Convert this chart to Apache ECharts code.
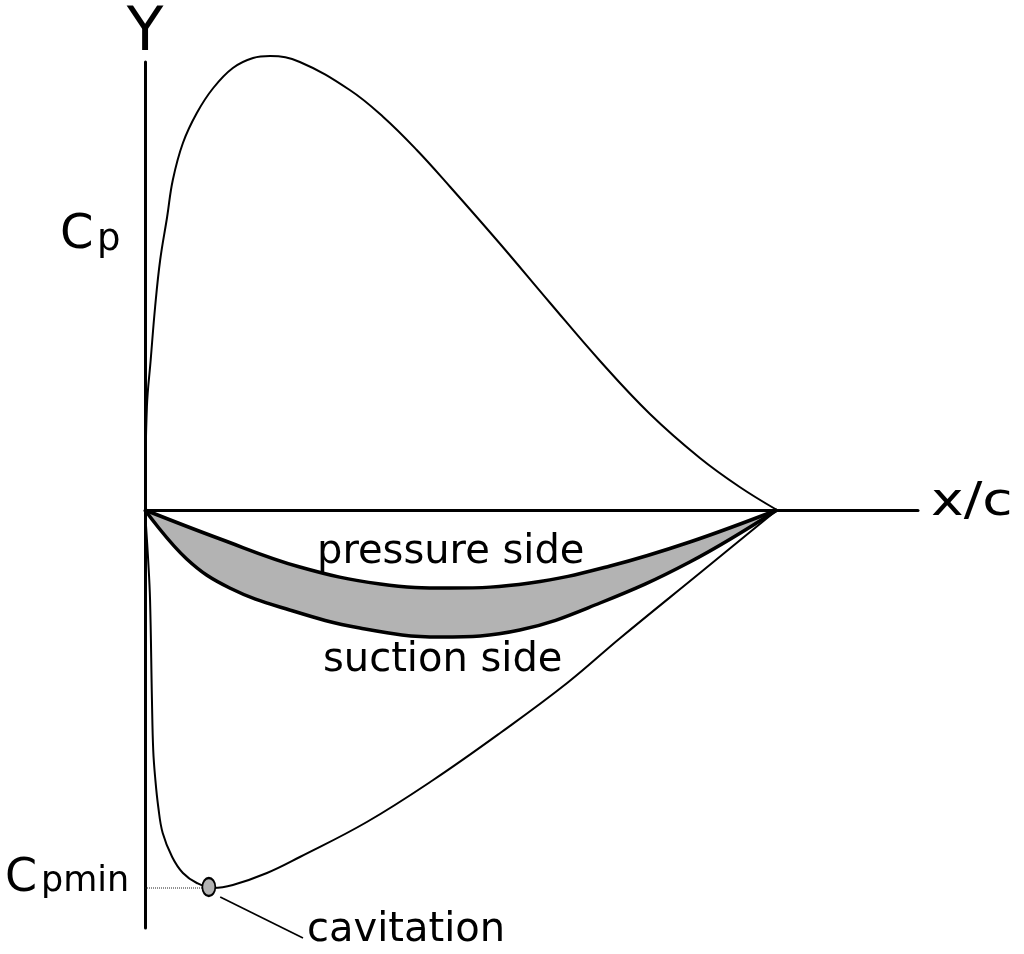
<!DOCTYPE html>
<html>
<head>
<meta charset="utf-8">
<script src="https://cdn.jsdelivr.net/npm/echarts@6/dist/echarts.min.js"></script>
<style>
  html, body { margin: 0; padding: 0; background: #fff; }
  #main { width: 1024px; height: 954px; }
</style>
</head>
<body>
<div id="main"></div>
<script>
// pressure coefficient along the chord, [x/c, Cp]
var cpUpper = [
  [0, 0], [0.003, 1.03], [0.009, 1.50], [0.016, 2.03], [0.024, 2.50], [0.035, 2.93],
  [0.044, 3.30], [0.060, 3.67], [0.082, 3.97], [0.108, 4.22], [0.139, 4.42], [0.171, 4.52],
  [0.198, 4.54], [0.245, 4.48], [0.324, 4.20], [0.377, 3.93], [0.430, 3.60], [0.483, 3.23],
  [0.562, 2.66], [0.641, 2.07], [0.720, 1.49], [0.799, 0.96], [0.878, 0.52], [0.941, 0.23],
  [1.0, 0]
];
var cpLower = [
  [0, 0], [0.005, -0.50], [0.008, -0.90], [0.011, -1.90], [0.013, -2.40], [0.016, -2.67],
  [0.021, -2.97], [0.028, -3.23], [0.043, -3.47], [0.060, -3.63], [0.082, -3.73], [0.108, -3.78],
  [0.139, -3.75], [0.193, -3.63], [0.245, -3.47], [0.351, -3.12], [0.456, -2.70], [0.562, -2.23],
  [0.668, -1.73], [0.752, -1.28], [0.878, -0.63], [1.0, 0]
];
// hydrofoil section
var foilPressure = [
  [0, 0], [0.119, -0.29], [0.245, -0.57], [0.372, -0.74], [0.483, -0.78], [0.609, -0.73],
  [0.736, -0.56], [0.862, -0.32], [1.0, 0]
];
var foilSuction = [
  [0, 0], [0.066, -0.49], [0.134, -0.78], [0.229, -1.00], [0.340, -1.18], [0.467, -1.27],
  [0.593, -1.20], [0.720, -0.93], [0.862, -0.52], [1.0, 0]
];
var cpMinPoint = [[0.101, -3.77]];
var cpMinGuide = [[0, -3.78], [0.093, -3.78]];
var cavitationLeader = [[0.119, -3.87], [0.25, -4.28]];

var myChart = echarts.init(document.getElementById('main'));

var font = 'DejaVu Sans';
function txt(text, x, y, size, align, sx) {
  return {
    type: 'text', z: 10, x: x, y: y, scaleX: sx || 1,
    style: { text: text, x: 0, y: 0, font: size + 'px "' + font + '"', fill: '#000',
      align: align || 'left', verticalAlign: 'middle' }
  };
}

function curve(data, width, z) {
  return { type: 'line', data: data, smooth: 0.4, symbol: 'none', z: z,
    clip: false, lineStyle: { color: '#000', width: width } };
}

myChart.setOption({
  animation: false,
  backgroundColor: '#fff',
  grid: { left: 145, right: 106, top: 62, bottom: 26 },
  xAxis: {
    type: 'value', min: 0, max: 1.2231, z: 2,
    axisLine: { onZero: true, lineStyle: { color: '#000', width: 3 } },
    axisTick: { show: false }, axisLabel: { show: false }, splitLine: { show: false }
  },
  yAxis: {
    type: 'value', min: -4.18, max: 4.48, z: 2,
    axisLine: { show: true, lineStyle: { color: '#000', width: 3 } },
    axisTick: { show: false }, axisLabel: { show: false }, splitLine: { show: false }
  },
  graphic: [
    txt('Y', 145, 34, 60, 'center'),
    txt('x/c', 931, 503, 46, 'left', 1.2),
    txt('C', 60, 236, 48),
    txt('p', 97, 240, 37),
    txt('C', 5, 879, 46),
    txt('pmin', 41, 882, 35),
    txt('pressure side', 317, 553, 40),
    txt('suction side', 323, 661, 40),
    txt('cavitation', 307, 931, 40)
  ],
  series: [
    // gray section: fill to chord, then blank out above the pressure side
    { type: 'line', data: foilSuction, smooth: 0.4, symbol: 'none', z: 1, clip: false,
      lineStyle: { width: 0 }, areaStyle: { color: '#b3b3b3', opacity: 1 } },
    { type: 'line', data: foilPressure, smooth: 0.4, symbol: 'none', z: 1, clip: false,
      lineStyle: { width: 0 }, areaStyle: { color: '#fff', opacity: 1 } },
    curve(foilPressure, 3.5, 3),
    curve(foilSuction, 3.5, 3),
    curve(cpUpper, 2, 3),
    curve(cpLower, 2, 3),
    { type: 'line', data: cpMinGuide, symbol: 'none', z: 3,
      lineStyle: { color: '#222', width: 1, type: [1, 1] } },
    { type: 'line', data: cavitationLeader, symbol: 'none', z: 3, clip: false,
      lineStyle: { color: '#000', width: 1.6 } },
    { type: 'scatter', data: cpMinPoint, symbol: 'circle', symbolSize: [13, 18], z: 5,
      itemStyle: { color: '#b3b3b3', borderColor: '#000', borderWidth: 2, opacity: 1 } }
  ]
});
</script>
</body>
</html>
